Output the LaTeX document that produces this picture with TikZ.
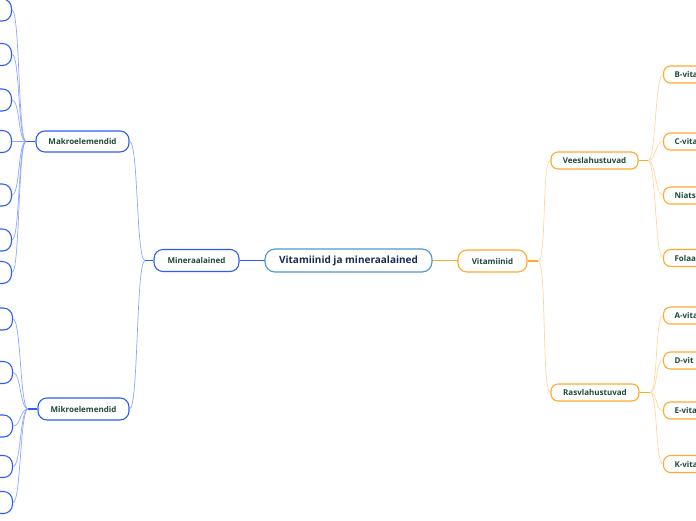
\documentclass[tikz,border=0pt]{standalone}
\usepackage{fontspec}
\setmainfont{Open Sans}
\definecolor{blu}{HTML}{2C5EF5}
\definecolor{blul}{HTML}{8CA8FF}
\definecolor{org}{HTML}{FFA82E}
\definecolor{orgl}{HTML}{FFD79C}
\definecolor{txt}{HTML}{1E4A3A}
\definecolor{cen}{HTML}{4F97D0}
\definecolor{centxt}{HTML}{1B2A55}
\tikzset{
  box/.style={draw, line width=1.1pt, fill=white, inner sep=0pt, text=txt,
    font=\bfseries\fontsize{8}{9}\selectfont},
  bnode/.style={box, draw=blu, rounded corners=9pt, minimum height=22pt},
  onode/.style={box, draw=org, rounded corners=7pt, minimum height=17pt},
  bleaf/.style={bnode, anchor=east, minimum width=60pt},
  oleaf/.style={onode, anchor=west, text width=80pt, align=left, inner xsep=11pt},
  bline/.style={draw=blul, line width=0.7pt},
  oline/.style={draw=orgl, line width=0.7pt},
  bstub/.style={draw=blu, line width=1.1pt},
  ostub/.style={draw=org, line width=1.1pt}
}
\begin{document}
\begin{tikzpicture}[x=1pt,y=-1pt]
\useasboundingbox (0,0) rectangle (696,520);
\clip (0,0) rectangle (696,520);

% junctions
\coordinate (jmin) at (145,260.5);
\coordinate (jmak) at (26,141.5);
\coordinate (jmik) at (28,409);
\coordinate (jvit) at (538,261);
\coordinate (jvee) at (648,160.5);
\coordinate (jras) at (650,392.5);

% connectors drawn first (nodes on top)
\draw[bstub] (240,260.5) -- (265,260.5);
\draw[ostub] (432,260.5) -- (458,260.5);

% main nodes
\node[box, draw=cen, rounded corners=10pt, minimum width=167pt, minimum height=23pt,
      text=centxt, font=\bfseries\fontsize{10}{12}\selectfont] (root) at (348.5,260.5) {Vitamiinid ja mineraalained};
\node[bnode, minimum width=85pt] (minr) at (196.5,260.5) {Mineraalained};
\node[onode, rounded corners=9pt, minimum height=22pt, minimum width=69pt] (vit) at (492.5,261) {Vitamiinid};

\node[bnode, minimum width=93pt, minimum height=21pt] (makro) at (82.5,141.5) {Makroelemendid};
\node[bnode, minimum width=91pt] (mikro) at (83.5,409) {Mikroelemendid};
\node[onode, minimum width=87pt] (vees) at (594.5,160.5) {Veeslahustuvad};
\node[onode, minimum width=88pt] (ras) at (595,392.5) {Rasvlahustuvad};

% left leaves
\node[bleaf] (a1) at (12,10) {};
\node[bleaf] (a2) at (12,54.5) {};
\node[bleaf] (a3) at (12,100) {};
\node[bleaf] (a4) at (12,141.5) {};
\node[bleaf] (a5) at (12,195) {};
\node[bleaf] (a6) at (12,240) {};
\node[bleaf] (a7) at (12,272.5) {};
\node[bleaf] (k1) at (13,319) {};
\node[bleaf] (k2) at (13,372.5) {};
\node[bleaf] (k3) at (13,426) {};
\node[bleaf] (k4) at (13,466.5) {};
\node[bleaf] (k5) at (13,502.5) {};

% right leaves
\node[oleaf] (v1) at (663,74.5) {B-vita};
\node[oleaf] (v2) at (663,141.5) {C-vita};
\node[oleaf] (v3) at (663,195.5) {Niatsi};
\node[oleaf] (v4) at (663,258) {Folaa};
\node[oleaf] (r1) at (663,315.5) {A-vita};
\node[oleaf] (r2) at (663,360.5) {D-vit};
\node[oleaf] (r3) at (663,410.5) {E-vita};
\node[oleaf] (r4) at (663,464) {K-vita};

% connectors
\draw[bstub] (minr.west) -- (jmin);
\draw[bline] (jmin) .. controls +(-9,0) and +(9,0) .. (makro.east);
\draw[bline] (jmin) .. controls +(-9,0) and +(9,0) .. (mikro.east);
\draw[bstub] (makro.west) -- (jmak);
\foreach \i in {1,...,7} {\draw[bline] (jmak) .. controls +(-8,0) and +(8,0) .. (a\i.east);}
\draw[bstub] (mikro.west) -- (jmik);
\foreach \i in {1,...,5} {\draw[bline] (jmik) .. controls +(-8,0) and +(8,0) .. (k\i.east);}

\draw[ostub] (vit.east) -- (jvit);
\draw[oline] (jvit) .. controls +(9,0) and +(-9,0) .. (vees.west);
\draw[oline] (jvit) .. controls +(9,0) and +(-9,0) .. (ras.west);
\draw[ostub] (vees.east) -- (jvee);
\foreach \i in {1,...,4} {\draw[oline] (jvee) .. controls +(8,0) and +(-8,0) .. (v\i.west);}
\draw[ostub] (ras.east) -- (jras);
\foreach \i in {1,...,4} {\draw[oline] (jras) .. controls +(8,0) and +(-8,0) .. (r\i.west);}
\end{tikzpicture}
\end{document}
